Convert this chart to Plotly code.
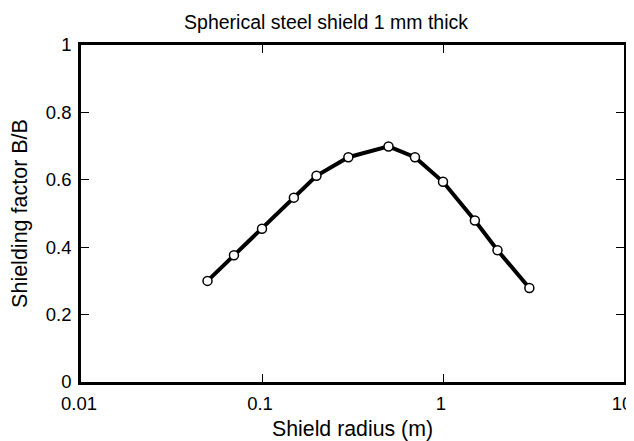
import plotly.graph_objects as go

radius_m = [0.05, 0.07, 0.1, 0.15, 0.2, 0.3, 0.5, 0.7, 1.0, 1.5, 2.0, 3.0]
shielding_factor = [0.300, 0.376, 0.455, 0.547, 0.612, 0.667, 0.699, 0.667, 0.594, 0.479, 0.391, 0.279]

x_tickvals = [0.01, 0.1, 1, 10]
x_ticktext = ["0.01", "0.1", "1", "10"]
y_tickvals = [0, 0.2, 0.4, 0.6, 0.8, 1]
y_ticktext = ["0", "0.2", "0.4", "0.6", "0.8", "1"]

fig = go.Figure()
fig.add_trace(go.Scatter(
    x=radius_m, y=shielding_factor, mode="lines+markers",
    line=dict(color="black", width=4),
    marker=dict(symbol="circle", size=9, color="white", line=dict(color="black", width=1.5)),
    showlegend=False,
))

# The page body has an 8px margin; the figure is offset by 8px on screen
font = "Liberation Sans, Arial, Helvetica, sans-serif"
fig.update_layout(
    width=634, height=433,
    margin=dict(l=73, r=18, t=37, b=59),
    paper_bgcolor="white", plot_bgcolor="white",
    font=dict(family=font, size=18.5, color="black"),
    title=dict(text="Spherical steel shield 1 mm thick", x=0.5016, xanchor="center",
               y=0.968, yanchor="middle", font=dict(size=19.5)),
    xaxis=dict(
        type="log", range=[-2, 1], tickvals=x_tickvals, ticktext=x_ticktext,
        ticks="inside", ticklen=8, tickwidth=1, tickcolor="black",
        showline=True, linewidth=2.5, linecolor="black", mirror="ticks",
        showgrid=False, zeroline=False, automargin=False,
        ticklabelstandoff=3, ticklabelshift=-2,
        title=dict(text="Shield radius (m)", font=dict(size=21.3), standoff=9),
    ),
    yaxis=dict(
        range=[0, 1], tickvals=y_tickvals, ticktext=y_ticktext,
        ticks="inside", ticklen=8, tickwidth=1, tickcolor="black",
        showline=True, linewidth=2.5, linecolor="black", mirror="ticks",
        showgrid=False, zeroline=False, automargin=False,
        ticklabelstandoff=3,
        title=dict(text="Shielding factor B/B", font=dict(size=21.5), standoff=18),
    ),
)

fig.write_html("out.html")
